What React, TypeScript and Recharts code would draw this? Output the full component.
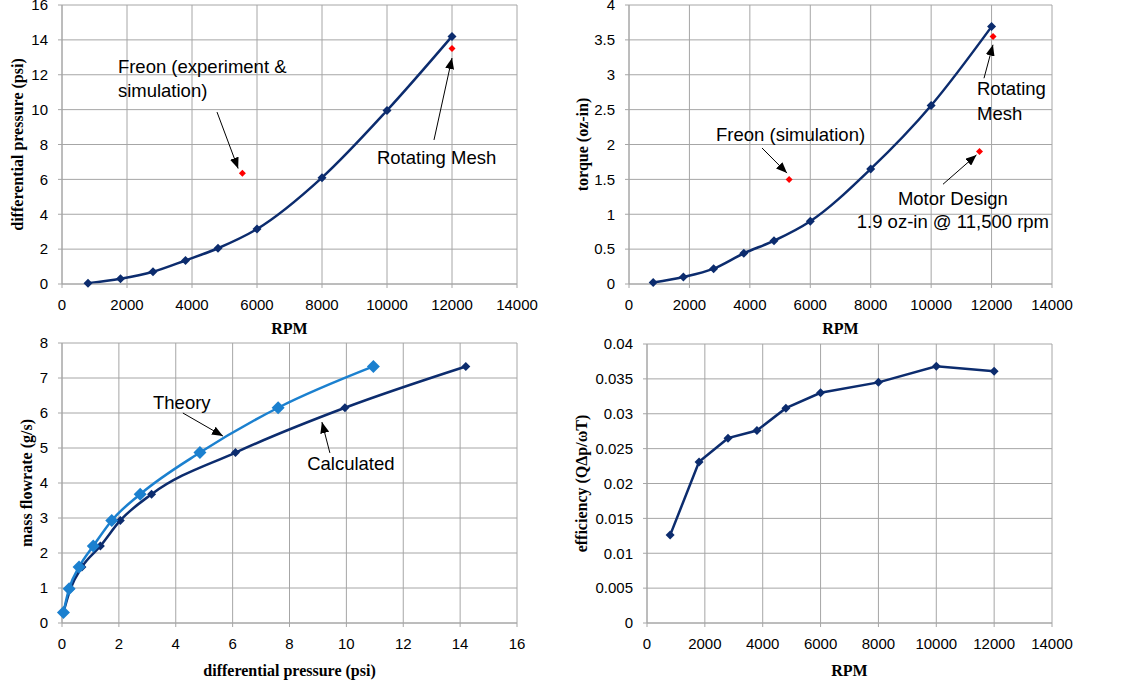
import React from 'react';
import {
    ComposedChart,
    Line,
    Scatter,
    XAxis,
    YAxis,
    CartesianGrid,
    ReferenceLine,
    ReferenceDot,
} from 'recharts';

// measured rpm points
const rpm = [800, 1800, 2800, 3800, 4800, 6000, 8000, 10000, 12000];
const pressure = [0.05, 0.3, 0.7, 1.35, 2.05, 3.15, 6.1, 9.95, 14.2];
const torque = [0.02, 0.1, 0.22, 0.44, 0.62, 0.9, 1.65, 2.56, 3.69];
const massFlow = [0.3, 0.98, 1.6, 2.2, 2.93, 3.68, 4.87, 6.15, 7.33];
const theoryPressure = [0.05, 0.25, 0.6, 1.1, 1.75, 2.75, 4.85, 7.6, 10.95];
const efficiency = [0.0126, 0.0231, 0.0265, 0.0276, 0.0308, 0.033, 0.0345, 0.0368, 0.0361];

// red single points
const freonPressureRpm = [5550, 12000];
const freonPressure = [6.35, 13.5];
const freonTorqueRpm = [5300, 11600, 12050];
const freonTorque = [1.5, 1.9, 3.55];

// tick labels
const rpmTicks = [0, 2000, 4000, 6000, 8000, 10000, 12000, 14000];
const pressureTicks = [0, 2, 4, 6, 8, 10, 12, 14, 16];
const torqueTicks = [0, 0.5, 1, 1.5, 2, 2.5, 3, 3.5, 4];
const flowTicks = [0, 1, 2, 3, 4, 5, 6, 7, 8];
const effTicks = [0, 0.005, 0.01, 0.015, 0.02, 0.025, 0.03, 0.035, 0.04];

// annotations: [x, y, text] and arrows [x1, y1, x2, y2]
const pressureNotes: [number, number, string][] = [
    [1720, 12.5, 'Freon (experiment &'],
    [1720, 11.1, 'simulation)'],
    [9690, 7.28, 'Rotating Mesh'],
];
const pressureArrows = [
    [4770, 9.86, 5420, 6.62],
    [11446, 8.26, 12000, 12.96],
];
const torqueNotes: [number, number, string][] = [
    [2880, 2.14, 'Freon (simulation)'],
    [11518, 2.81, 'Rotating'],
    [11518, 2.45, 'Mesh'],
];
const torqueCenterNotes: [number, number, string][] = [
    [10720, 1.23, 'Motor Design'],
    [10720, 0.89, '1.9 oz-in @ 11,500 rpm'],
];
const torqueArrows = [
    [4402, 1.95, 5229, 1.59],
    [11749, 2.95, 12047, 3.43],
    [10392, 1.43, 11500, 1.85],
];
const flowNotes: [number, number, string][] = [
    [3.2, 6.31, 'Theory'],
    [8.62, 4.57, 'Calculated'],
];
const flowArrows = [
    [4.25, 6.0, 5.66, 5.34],
    [9.42, 4.86, 9.14, 5.74],
];

const NAVY = '#0c2c6e';
const LIGHT = '#1b80cf';
const RED = '#ff0000';
const GRID = '#a6a6a6';
const SANS = '"Liberation Sans", Arial, sans-serif';
const SERIF = '"Liberation Serif", "Times New Roman", serif';

const pairs = (xs: number[], ys: number[]) => xs.map((x, i) => ({ x, y: ys[i] }));

const diamondPath = (cx: number, cy: number, r: number) =>
    `M${cx},${cy - r}L${cx + r},${cy}L${cx},${cy + r}L${cx - r},${cy}Z`;

const diamondDot = (r: number, fill: string) => (props: any) => {
    const { cx, cy, index } = props;
    if (cx == null || cy == null) return <g key={`d-${index}`} />;
    return <path key={`d-${index}`} d={diamondPath(cx, cy, r)} fill={fill} />;
};

const redShape = (props: any) => {
    const { cx, cy } = props;
    return <path d={diamondPath(cx, cy, 3.5)} fill={RED} />;
};

const arrowShape = (props: any) => (
    <line x1={props.x1} y1={props.y1} x2={props.x2} y2={props.y2} stroke="#000" strokeWidth={1} markerEnd="url(#arrowHead)" />
);

const noteShape = (text: string, anchor: 'start' | 'middle') => (props: any) => (
    <text x={props.cx} y={props.cy} dominantBaseline="central" textAnchor={anchor} fontFamily={SANS} fontSize={18.5} fill="#000">
        {text}
    </text>
);

const tickStyle = { fill: '#000', fontSize: 15, fontFamily: SANS };
const titleStyle = { fill: '#000', fontSize: 16, fontFamily: SERIF, fontWeight: 'bold' as const };

function renderNotes(notes: [number, number, string][], anchor: 'start' | 'middle', prefix: string) {
    return notes.map(([x, y, t], i) => (
        <ReferenceDot key={`${prefix}-${i}`} x={x} y={y} r={0} ifOverflow="visible" shape={noteShape(t, anchor)} />
    ));
}

function renderArrows(arrows: number[][], prefix: string) {
    return arrows.map(([x1, y1, x2, y2], i) => (
        <ReferenceLine
            key={`${prefix}-${i}`}
            segment={[{ x: x1, y: y1 }, { x: x2, y: y2 }]}
            ifOverflow="visible"
            shape={arrowShape}
        />
    ));
}

interface PanelProps {
    left: number;
    top: number;
    width: number;
    height: number;
    margin: { top: number; right: number; bottom: number; left: number };
    yWidth: number;
    xHeight: number;
    yLabelOffset: number;
    xLabel: string;
    yLabel: string;
    xTicks: number[];
    yTicks: number[];
    children: React.ReactNode;
}

function Panel(p: PanelProps) {
    return (
        <div style={{ position: 'absolute', left: p.left, top: p.top }}>
            <ComposedChart width={p.width} height={p.height} margin={p.margin}>
                <CartesianGrid stroke={GRID} strokeWidth={1} />
                <XAxis
                    type="number"
                    dataKey="x"
                    domain={[p.xTicks[0], p.xTicks[p.xTicks.length - 1]]}
                    ticks={p.xTicks}
                    interval={0}
                    height={p.xHeight}
                    tick={tickStyle}
                    tickSize={4}
                    tickMargin={11}
                    stroke={GRID}
                    label={{ value: p.xLabel, position: 'insideBottom', offset: 0, style: titleStyle }}
                />
                <YAxis
                    type="number"
                    dataKey="y"
                    domain={[p.yTicks[0], p.yTicks[p.yTicks.length - 1]]}
                    ticks={p.yTicks}
                    interval={0}
                    width={p.yWidth}
                    tick={tickStyle}
                    tickSize={4}
                    tickMargin={10}
                    stroke={GRID}
                    label={{
                        value: p.yLabel,
                        angle: -90,
                        position: 'insideLeft',
                        offset: p.yLabelOffset,
                        style: { ...titleStyle, textAnchor: 'middle' },
                    }}
                />
                {p.children}
            </ComposedChart>
        </div>
    );
}

export default function App() {
    const pressureData = pairs(rpm, pressure);
    const torqueData = pairs(rpm, torque);
    const calcData = pairs(pressure, massFlow);
    const theoryData = pairs(theoryPressure, massFlow);
    const effData = pairs(rpm, efficiency);

    return (
        <div style={{ position: 'absolute', left: 0, top: 0, width: 1129, height: 686, background: '#fff', overflow: 'hidden' }}>
            <svg width={0} height={0} style={{ position: 'absolute' }}>
                <defs>
                    <marker id="arrowHead" viewBox="0 0 11 9" refX={11} refY={4.5} markerWidth={11} markerHeight={9} markerUnits="userSpaceOnUse" orient="auto">
                        <path d="M0,0L11,4.5L0,9Z" fill="#000" />
                    </marker>
                </defs>
            </svg>

            <Panel
                left={0}
                top={0}
                width={540}
                height={340}
                margin={{ top: 5, right: 23, bottom: 6, left: 0 }}
                yWidth={62}
                xHeight={50}
                yLabelOffset={17}
                xLabel="RPM"
                yLabel="differential pressure (psi)"
                xTicks={rpmTicks}
                yTicks={pressureTicks}
            >
                <Line data={pressureData} dataKey="y" type="monotone" stroke={NAVY} strokeWidth={2.5} dot={diamondDot(4.5, NAVY)} isAnimationActive={false} />
                <Scatter data={pairs(freonPressureRpm, freonPressure)} dataKey="y" shape={redShape} isAnimationActive={false} />
                {renderArrows(pressureArrows, 'pa')}
                {renderNotes(pressureNotes, 'start', 'pn')}
            </Panel>

            <Panel
                left={560}
                top={0}
                width={569}
                height={340}
                margin={{ top: 5, right: 77, bottom: 6, left: 0 }}
                yWidth={69}
                xHeight={50}
                yLabelOffset={22}
                xLabel="RPM"
                yLabel="torque (oz-in)"
                xTicks={rpmTicks}
                yTicks={torqueTicks}
            >
                <Line data={torqueData} dataKey="y" type="monotone" stroke={NAVY} strokeWidth={2.5} dot={diamondDot(4.5, NAVY)} isAnimationActive={false} />
                <Scatter data={pairs(freonTorqueRpm, freonTorque)} dataKey="y" shape={redShape} isAnimationActive={false} />
                {renderArrows(torqueArrows, 'ta')}
                {renderNotes(torqueNotes, 'start', 'tn')}
                {renderNotes(torqueCenterNotes, 'middle', 'tc')}
            </Panel>

            <Panel
                left={0}
                top={325}
                width={540}
                height={361}
                margin={{ top: 18, right: 23, bottom: 10, left: 0 }}
                yWidth={62}
                xHeight={53}
                yLabelOffset={26}
                xLabel="differential pressure (psi)"
                yLabel="mass flowrate (g/s)"
                xTicks={pressureTicks}
                yTicks={flowTicks}
            >
                <Line data={calcData} dataKey="y" type="monotone" stroke={NAVY} strokeWidth={2.5} dot={diamondDot(4.5, NAVY)} isAnimationActive={false} />
                <Line data={theoryData} dataKey="y" type="monotone" stroke={LIGHT} strokeWidth={2.5} dot={diamondDot(6.5, LIGHT)} isAnimationActive={false} />
                {renderArrows(flowArrows, 'fa')}
                {renderNotes(flowNotes, 'start', 'fn')}
            </Panel>

            <Panel
                left={560}
                top={325}
                width={569}
                height={361}
                margin={{ top: 19, right: 77, bottom: 10, left: 0 }}
                yWidth={87}
                xHeight={53}
                yLabelOffset={21}
                xLabel="RPM"
                yLabel="efficiency (QΔp/ωT)"
                xTicks={rpmTicks}
                yTicks={effTicks}
            >
                <Line data={effData} dataKey="y" type="linear" stroke={NAVY} strokeWidth={2.5} dot={diamondDot(4.5, NAVY)} isAnimationActive={false} />
            </Panel>
        </div>
    );
}
